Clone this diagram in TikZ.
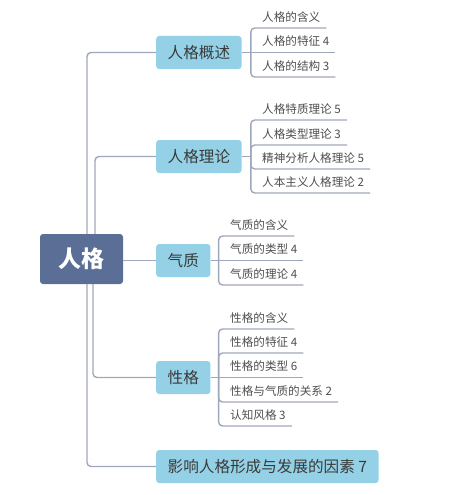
\documentclass[tikz,border=0pt]{standalone}
\usepackage{fontspec}
\setmainfont{Noto Sans CJK SC}
\usetikzlibrary{positioning}
\definecolor{rootblue}{HTML}{5B6F96}
\definecolor{topicblue}{HTML}{94D1E6}
\definecolor{linegray}{HTML}{9FA8BA}
\definecolor{textgray}{HTML}{3A3A3A}

\begin{document}
\begin{tikzpicture}[x=1pt, y=-1pt,
  root/.style={fill=rootblue, rounded corners=3pt, text=white, minimum width=83pt, minimum height=50pt, font=\fontsize{23}{23}\selectfont\bfseries},
  topic/.style={fill=topicblue, rounded corners=3pt, text=textgray, anchor=west, minimum height=33pt, inner xsep=11.5pt, font=\fontsize{15.6}{16}\selectfont},
  leaf/.style={anchor=south west, inner xsep=0pt, inner ysep=0pt, text depth=6.6pt, text=textgray!90, font=\fontsize{11.6}{12}\selectfont},
  conn/.style={draw=linegray, line width=1.4pt, rounded corners=4pt}]

\useasboundingbox (0,0) rectangle (455,495);

% centre
\node[root] (renge) at (81.5,259) {人格};

% main topics
\node[topic] (gaishu) at (156,52.5) {人格概述};
\node[topic] (lilun) at (156,156.5) {人格理论};
\node[topic] (qizhi) at (156,260.5) {气质};
\node[topic] (xingge) at (156,377.5) {性格};
\node[topic] (yingxiang) at (156,466.5) {影响人格形成与发展的因素 7};

\draw[conn] ([xshift=5.5pt]renge.north) |- (gaishu.west);
\draw[conn] ([xshift=13.5pt]renge.north) |- (lilun.west);
\draw[conn] (renge.east |- qizhi.west) -- (qizhi.west);
\draw[conn] ([xshift=11.5pt]renge.south) |- (xingge.west);
\draw[conn] ([xshift=5.5pt]renge.south) |- (yingxiang.west);

% bracket points
\coordinate (g1) at ([xshift=9pt]gaishu.east);
\coordinate (g2) at ([xshift=9pt]lilun.east);
\coordinate (g3) at ([xshift=8pt]qizhi.east);
\coordinate (g4) at ([xshift=8pt]xingge.east);

% 人格概述
\node[leaf] (a1) at (262,28) {人格的含义};
\node[leaf] (a2) at (262,52.5) {人格的特征 4};
\node[leaf] (a3) at (262,77) {人格的结构 3};

% 人格理论
\node[leaf] (b1) at (262,120) {人格特质理论 5};
\node[leaf] (b2) at (262,145) {人格类型理论 3};
\node[leaf] (b3) at (262,169) {精神分析人格理论 5};
\node[leaf] (b4) at (262,193) {人本主义人格理论 2};

% 气质
\node[leaf] (c1) at (230,236) {气质的含义};
\node[leaf] (c2) at (230,260.5) {气质的类型 4};
\node[leaf] (c3) at (230,285) {气质的理论 4};

% 性格
\node[leaf] (d1) at (230,329) {性格的含义};
\node[leaf] (d2) at (230,353) {性格的特征 4};
\node[leaf] (d3) at (230,377.5) {性格的类型 6};
\node[leaf] (d4) at (230,402) {性格与气质的关系 2};
\node[leaf] (d5) at (230,426) {认知风格 3};

\draw[conn] (gaishu.east) -- (g1);
\draw[conn] (g1) |- ([xshift=6pt]a1.south east);
\draw[conn] (g1) -- ([xshift=6pt]a2.south east);
\draw[conn] (g1) |- ([xshift=6pt]a3.south east);

\draw[conn] (lilun.east) -- (g2);
\draw[conn] (g2) |- ([xshift=6pt]b1.south east);
\draw[conn] (g2) |- ([xshift=6pt]b2.south east);
\draw[conn] (g2) |- ([xshift=6pt]b3.south east);
\draw[conn] (g2) |- ([xshift=6pt]b4.south east);

\draw[conn] (qizhi.east) -- (g3);
\draw[conn] (g3) |- ([xshift=6pt]c1.south east);
\draw[conn] (g3) -- ([xshift=6pt]c2.south east);
\draw[conn] (g3) |- ([xshift=6pt]c3.south east);

\draw[conn] (xingge.east) -- (g4);
\draw[conn] (g4) |- ([xshift=6pt]d1.south east);
\draw[conn] (g4) |- ([xshift=6pt]d2.south east);
\draw[conn] (g4) -- ([xshift=6pt]d3.south east);
\draw[conn] (g4) |- ([xshift=6pt]d4.south east);
\draw[conn] (g4) |- ([xshift=6pt]d5.south east);

\end{tikzpicture}
\end{document}
